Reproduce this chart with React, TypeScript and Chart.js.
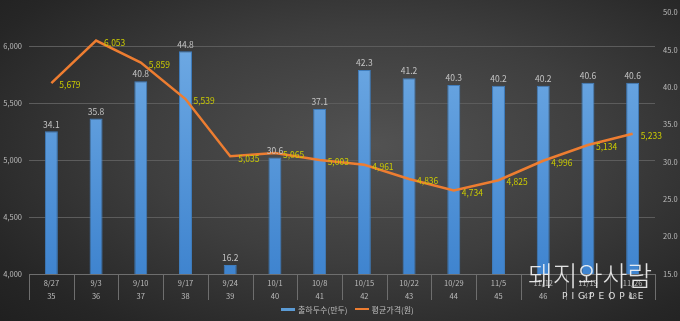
import React, { useEffect, useRef } from "react";
import { Chart, registerables } from "chart.js";

Chart.register(...registerables);

const dates = ["8/27", "9/3", "9/10", "9/17", "9/24", "10/1", "10/8", "10/15", "10/22", "10/29", "11/5", "11/12", "11/19", "11/26"];
const weeks = ["35", "36", "37", "38", "39", "40", "41", "42", "43", "44", "45", "46", "47", "48"];
const shipments = [34.1, 35.8, 40.8, 44.8, 16.2, 30.6, 37.1, 42.3, 41.2, 40.3, 40.2, 40.2, 40.6, 40.6];
const prices = [5679, 6053, 5859, 5539, 5035, 5065, 5003, 4961, 4836, 4734, 4825, 4996, 5134, 5233];
const priceTicks = [4000, 4500, 5000, 5500, 6000];
const barLabel = "출하두수(만두)";
const lineLabel = "평균가격(원)";

const FONT = "'Noto Sans CJK KR', 'Noto Sans', sans-serif";

const extrasPlugin = {
  id: "extras",
  afterDatasetsDraw(chart: any) {
    const ctx = chart.ctx;
    const area = chart.chartArea;
    const x = chart.scales.x;
    ctx.save();
    ctx.strokeStyle = "#6e6e6e";
    ctx.lineWidth = 1;
    ctx.beginPath();
    ctx.moveTo(area.left, Math.round(area.bottom) + 0.5);
    ctx.lineTo(area.right, Math.round(area.bottom) + 0.5);
    const n = x.ticks.length;
    const w = (area.right - area.left) / n;
    for (let i = 0; i <= n; i++) {
      const px = Math.round(area.left + i * w) + 0.5;
      ctx.moveTo(px, area.bottom);
      ctx.lineTo(px, area.bottom + 26);
    }
    ctx.stroke();

    const barMeta = chart.getDatasetMeta(0);
    ctx.font = `8.5px ${FONT}`;
    ctx.fillStyle = "#c4c4c4";
    ctx.textAlign = "center";
    ctx.textBaseline = "middle";
    barMeta.data.forEach((el: any, i: number) => {
      ctx.fillText(shipments[i].toFixed(1), el.x, el.y - 7);
    });

    const lineMeta = chart.getDatasetMeta(1);
    ctx.fillStyle = "#cccc00";
    ctx.textAlign = "left";
    lineMeta.data.forEach((el: any, i: number) => {
      ctx.fillText(prices[i].toLocaleString("en-US"), el.x + 8, el.y + 2);
    });
    ctx.restore();
  },
};

export default function App() {
  const ref = useRef<HTMLCanvasElement>(null);
  useEffect(() => {
    document.body.style.margin = "0";
    const chart = new Chart(ref.current as HTMLCanvasElement, {
      type: "bar",
      data: {
        labels: dates.map((d, i) => [d, weeks[i]]),
        datasets: [
          {
            type: "bar",
            label: barLabel,
            data: shipments,
            yAxisID: "yBar",
            order: 1,
            barPercentage: 0.29,
            categoryPercentage: 1,
            borderWidth: 1,
            borderColor: "#3f7dbd",
            backgroundColor: (c: any) => {
              const a = c.chart.chartArea;
              if (!a) return "#5b9bd5";
              const g = c.chart.ctx.createLinearGradient(0, a.top, 0, a.bottom);
              g.addColorStop(0, "#74aee6");
              g.addColorStop(1, "#3f84cf");
              return g;
            },
          },
          {
            type: "line",
            label: lineLabel,
            data: prices,
            yAxisID: "yLine",
            order: 0,
            borderColor: "#ed7d31",
            borderWidth: 2.5,
            pointRadius: 0,
            tension: 0,
          },
        ],
      } as any,
      options: {
        responsive: false,
        animation: false,
        layout: { padding: { top: 7, left: 0, right: 0, bottom: 0 } },
        plugins: { legend: { display: false }, tooltip: { enabled: false } },
        scales: {
          x: {
            offset: true,
            grid: { display: false },
            border: { display: false },
            ticks: {
              color: "#bdbdbd",
              font: { size: 7.5, family: FONT, lineHeight: 1.7 },
              padding: -5,
              maxRotation: 0,
              autoSkip: false,
            },
            afterFit: (s: any) => {
              s.height = 47;
            },
          },
          yLine: {
            position: "left",
            min: 4000,
            max: 6300,
            ticks: {
              color: "#bdbdbd",
              font: { size: 7.5, family: FONT },
              padding: 7,
              autoSkip: false,
              callback: (v: any) => Number(v).toLocaleString("en-US"),
            },
            afterBuildTicks: (s: any) => {
              s.ticks = priceTicks.map((v) => ({ value: v }));
            },
            grid: { color: "#5c5c5c", lineWidth: 1, drawTicks: false },
            border: { display: false },
            afterFit: (s: any) => {
              s.width = 29;
            },
          },
          yBar: {
            position: "right",
            min: 15,
            max: 50,
            ticks: {
              stepSize: 5,
              color: "#bdbdbd",
              font: { size: 7.5, family: FONT },
              padding: 8,
              callback: (v: any) => Number(v).toFixed(1),
            },
            grid: { drawOnChartArea: false, drawTicks: false },
            border: { display: false },
            afterFit: (s: any) => {
              s.width = 25;
            },
          },
        },
      } as any,
      plugins: [extrasPlugin],
    });
    return () => chart.destroy();
  }, []);

  return (
    <div
      style={{
        position: "fixed",
        left: 0,
        top: 0,
        width: 680,
        height: 321,
        overflow: "hidden",
        background: "radial-gradient(ellipse 75% 80% at 55% 45%, #525252 0%, #3e3e3e 45%, #262626 85%, #202020 100%)",
        fontFamily: FONT,
      }}
    >
      <canvas ref={ref} width={680} height={321} style={{ position: "absolute", left: 0, top: 0 }} />
      <div style={{ position: "absolute", left: 281, top: 302, height: 14, display: "flex", alignItems: "center", fontSize: 8, color: "#bdbdbd", whiteSpace: "nowrap" }}>
        <span style={{ display: "inline-block", width: 14, height: 3, background: "#5b9bd5", marginRight: 3 }} />
        <span>{barLabel}</span>
        <span style={{ display: "inline-block", width: 14, height: 2, background: "#ed7d31", marginLeft: 7, marginRight: 3 }} />
        <span>{lineLabel}</span>
      </div>
      <div style={{ position: "absolute", left: 528, top: 258, color: "rgba(245,245,245,0.9)", fontSize: 27, fontWeight: 300, letterSpacing: 0, whiteSpace: "nowrap", lineHeight: "34px" }}>
        돼지와사람
      </div>
      <div style={{ position: "absolute", left: 562, top: 291, color: "rgba(245,245,245,0.9)", fontSize: 9, letterSpacing: 4, whiteSpace: "nowrap", fontFamily: "'DejaVu Sans', sans-serif" }}>
        PIGPEOPLE
      </div>
    </div>
  );
}
